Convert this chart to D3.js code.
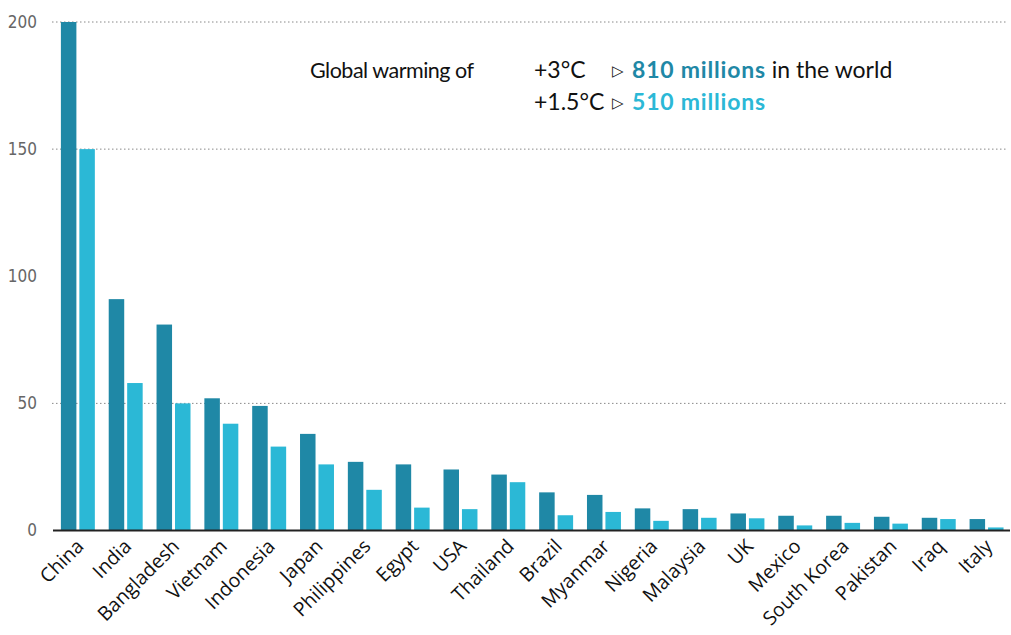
<!DOCTYPE html>
<html>
<head>
<meta charset="utf-8">
<script src="https://cdn.jsdelivr.net/npm/d3@7"></script>
<style>
  body { margin: 0; background: #fff; }
  svg { display: block; font-family: "Open Sans", "Noto Sans", sans-serif; }
</style>
</head>
<body>
<div id="chart"></div>
<script>
// data (millions of people)
const countries = ['China', 'India', 'Bangladesh', 'Vietnam', 'Indonesia', 'Japan', 'Philippines',
  'Egypt', 'USA', 'Thailand', 'Brazil', 'Myanmar', 'Nigeria', 'Malaysia', 'UK', 'Mexico',
  'South Korea', 'Pakistan', 'Iraq', 'Italy'];
const warm3 = [200, 91, 81, 52, 49, 38, 27, 26, 24, 22, 15, 14, 8.7, 8.4, 6.7, 5.8, 5.8, 5.4, 5, 4.5];
const warm15 = [150, 58, 50, 42, 33, 26, 16, 9, 8.4, 19, 6, 7.3, 3.8, 5, 4.8, 2, 3, 2.7, 4.5, 1.2];
const yTicks = [0, 50, 100, 150, 200];
const gridTicks = [50, 150, 200];

const width = 1011, height = 635;
const dark = '#1f88a6', light = '#2bb8d6';

const svg = d3.select('#chart').append('svg')
  .attr('width', width)
  .attr('height', height);

const x0 = d3.scaleBand()
  .domain(countries)
  .range([53, 1010])
  .paddingInner(0.29)
  .paddingOuter(0.15)
  .align(0.55);

const x1 = d3.scaleBand()
  .domain(['a', 'b'])
  .range([0, x0.bandwidth()])
  .paddingInner(0.16);

const y = d3.scaleLinear()
  .domain([0, 200])
  .range([530.5, 22]);

// dotted gridlines
svg.append('g').selectAll('line')
  .data(gridTicks)
  .join('line')
  .attr('x1', 52).attr('x2', 1006)
  .attr('y1', d => y(d)).attr('y2', d => y(d))
  .attr('stroke', '#888')
  .attr('stroke-width', 1)
  .attr('stroke-dasharray', '1.5,2.5');

// y axis labels
const yAxis = svg.append('g')
  .attr('transform', 'translate(37,0)')
  .call(d3.axisLeft(y).tickValues(yTicks).tickSize(0).tickPadding(0));
yAxis.select('.domain').remove();
yAxis.selectAll('text')
  .attr('font-size', 17)
  .attr('fill', '#666')
  .style('font-family', '"Liberation Sans Narrow", "DejaVu Sans Condensed", sans-serif')
  .style('font-weight', 300);

// bars
const groups = svg.append('g').selectAll('g')
  .data(countries)
  .join('g')
  .attr('transform', d => `translate(${x0(d)},0)`);

groups.append('rect')
  .attr('x', x1('a'))
  .attr('width', x1.bandwidth())
  .attr('y', (d, i) => y(warm3[i]))
  .attr('height', (d, i) => y(0) - y(warm3[i]))
  .attr('fill', dark);

groups.append('rect')
  .attr('x', x1('b'))
  .attr('width', x1.bandwidth())
  .attr('y', (d, i) => y(warm15[i]))
  .attr('height', (d, i) => y(0) - y(warm15[i]))
  .attr('fill', light);

// baseline
svg.append('line')
  .attr('x1', 53).attr('x2', 1010)
  .attr('y1', y(0)).attr('y2', y(0))
  .attr('stroke', '#222')
  .attr('stroke-width', 2);

// category labels, rotated
const xAxis = svg.append('g')
  .attr('transform', `translate(0,${y(0)})`)
  .call(d3.axisBottom(x0).tickSize(0).tickPadding(0));
xAxis.select('.domain').remove();
xAxis.selectAll('text')
  .style('font-family', '"Open Sans", "Noto Sans", sans-serif')
  .attr('font-size', 19.5)
  .attr('fill', '#111')
  .attr('text-anchor', 'end')
  .attr('dy', 0)
  .attr('transform', `translate(7,17) rotate(-45)`);

// annotation
const note = svg.append('g')
  .style('font-family', 'Lato, "Open Sans", sans-serif')
  .attr('font-size', 23).attr('fill', '#111');
note.append('text').attr('x', 310).attr('y', 78)
  .attr('font-size', 21.5).attr('letter-spacing', -0.5)
  .text('Global warming of');
note.append('text').attr('x', 534).attr('y', 78).text('+3°C');
note.append('text').attr('x', 534).attr('y', 110).text('+1.5°C');

note.append('text').attr('x', 612).attr('y', 76).attr('font-size', 15).text('▷');
note.append('text').attr('x', 612).attr('y', 108).attr('font-size', 15).text('▷');

const l1 = note.append('text').attr('x', 632).attr('y', 78);
l1.append('tspan').attr('fill', dark).attr('font-weight', 'bold')
  .attr('letter-spacing', 0.8).text('810 millions');
l1.append('tspan').text(' in the world');

note.append('text').attr('x', 632).attr('y', 110)
  .attr('fill', light).attr('font-weight', 'bold')
  .attr('letter-spacing', 0.8).text('510 millions');
</script>
</body>
</html>
